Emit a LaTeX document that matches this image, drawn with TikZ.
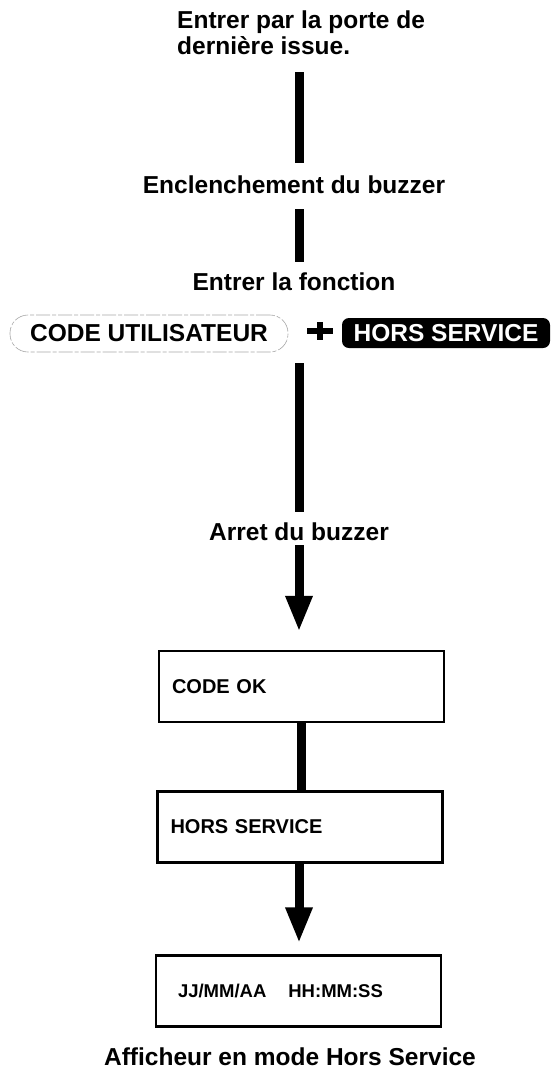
\documentclass[tikz,border=0pt]{standalone}
\usepackage{fontspec}
\setmainfont{Liberation Sans}
\usetikzlibrary{arrows.meta}

\begin{document}
\begin{tikzpicture}[x=1pt,y=-1pt,
	lbl/.style={inner sep=0pt,font=\fontsize{24.5}{26}\selectfont\bfseries},
	key/.style={lbl,draw=gray!70,line width=0.6pt,dash pattern=on 14pt off 2pt on 4pt off 2pt,
		rounded corners=18pt,minimum width=278pt,minimum height=37pt},
	hskey/.style={lbl,fill=black,text=white,rounded corners=7pt,minimum width=208pt,minimum height=30pt},
	screen/.style={draw,line width=2.5pt,minimum width=285pt,minimum height=71pt,inner xsep=13pt,
		text width=259pt,align=left,font=\fontsize{20}{22}\selectfont\bfseries},
	bar/.style={line width=9pt},
	arr/.style={line width=9pt,-{Triangle[width=25pt,length=36pt]}}]
		\useasboundingbox (0,0) rectangle (558,1072);
		\coordinate (axis) at (299,0);
		\node[lbl,anchor=north west,align=left] (title) at (177,11) {Entrer par la porte de\\derni\`ere issue.};
		\node[lbl,anchor=base] (buzzon) at (294,193) {Enclenchement du buzzer};
		\node[lbl,anchor=base] (fonc) at (294,290) {Entrer la fonction};
		\node[key] (code) at (149,333.5) {CODE UTILISATEUR};
		\node[hskey] (hskey) at (446,333) {HORS SERVICE};
		\draw[line width=6pt] (307,331) -- (333,331) (320,322) -- (320,340);
		\node[lbl,anchor=base] (arret) at (299,540) {Arret du buzzer};
		\node[screen] (codeok) at (301.5,686.5) {CODE OK};
		\node[screen] (hsscreen) at (300,827) {HORS SERVICE};
		\node[screen,inner xsep=22pt,text width=241pt,font=\fontsize{18.5}{20}\selectfont\bfseries] (date) at (298.5,991) {JJ/MM/AA\hspace{22pt}HH:MM:SS};
		\node[lbl,anchor=base] (caption) at (290,1065) {Afficheur en mode Hors Service};
		\draw[bar,shorten <=17pt,shorten >=12pt] (title.south -| axis) -- (buzzon.north -| axis);
		\draw[bar,shorten <=16pt,shorten >=10pt] (buzzon.south -| axis) -- (fonc.north -| axis);
		\draw[bar,shorten <=11pt,shorten >=10pt] (code.south -| axis) -- (arret.north -| axis);
		\draw[arr,shorten <=5pt,shorten >=18pt] (arret.south -| axis) -- (codeok.north -| axis);
		\draw[bar] (codeok.south) -- (hsscreen.north -| codeok.south);
		\draw[arr,shorten >=11pt] (hsscreen.south -| axis) -- (date.north -| axis);
\end{tikzpicture}
\end{document}
